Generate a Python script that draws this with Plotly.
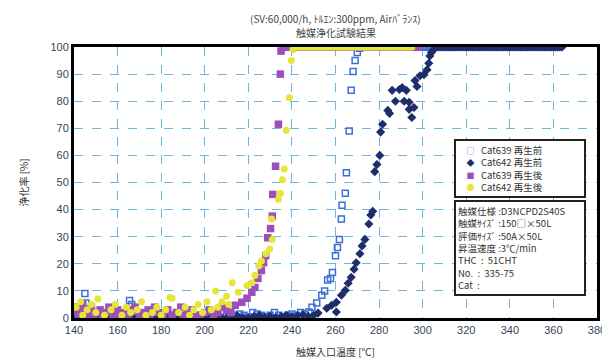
import plotly.graph_objects as go

# ---- data ----
c639_pre_x = [141,143,145,145.5,147,149,151,153,156,158,160,163,165.5,166.5,168,171,174,177,180,183,186,189,192,195,198,201,204,207,210,213,216,218,220,222,224,226,228,230,232,234,236,238,240,242,244,246,
              247.8,249.2,251.4,253.7,255,256.4,257.7,258.6,260,260.9,261.8,262.7,263,264.5,265,266.3,267.2,268.1,269,270,271]
c639_pre_y = [1,2,9,5.5,3,1,2,0.5,1,2,0,1,6.5,5,1,0.5,1,0,1,0.5,0,1,0.5,0,1,0,1,0,0.5,1,1.5,1,0.5,2,1.5,1,0.5,1,2,1,0.5,1,1.5,1,2,1.5,
              2.2,4,5.5,8.4,10,14,14.6,16.8,23,26,29,36.5,41.6,46,53.6,69,84,91,95,98,99.5]
c639_pre_top_x = list(range(272, 363))

c642_pre_x = [140,142.5,145,147.5,150,152.5,155,157.5,160,162.5,165,167.5,170,172.5,175,177.5,180,182.5,185,187.5,190,192.5,195,197.5,200,202.5,205,207.5,210,212.5,215,217.5,220,222.5,225,227.5,230,232.5,235,237.5,240,242.5,245,247.5,250,
              252,256,258.2,260.4,260.4,262.7,264.5,265.8,267.2,268.5,269.5,271.2,272.2,273.5,275.3,276.2,277.1,278,279,280.3,280.7,281.6,284,284.8,286,287.5,289.3,290.6,291.5,292.5,293.8,293.8,295,296,296.5,297.4,298.8,300.6,302,302.8,303.3,304,305]
c642_pre_y = [0,0.5,0,1,0.3,0,0.5,1,0,0.3,0.5,0,1,0.2,0,0.5,0.3,0,0.8,0.2,0,0.5,0,0.3,1,0,0.5,0.2,0,0.4,0.8,0.2,0,0.5,1,0.3,0.6,0.2,0.5,1,0.4,0.8,1.2,0.6,1,
              1.8,3.6,4.7,5.8,2.2,8.4,10.2,12.8,15,18,20.4,23.7,26.6,29,34.7,38,39.4,54,56.6,60,68.6,71.5,76.6,75.5,84,80,84.3,85,80,84,79.6,77,74,77.7,87.6,85.4,89.4,89.8,91.6,94,96.7,98,99]
c642_pre_top_x = list(range(306, 365))

c639_post_x = [140,141,142,143,144,145,146,147,148,149,150,152,153,155,156,158,160,161,163,165,167,168,170,172,174,175,177,179,181,183,185,187,189,190,192,194,196,198,200,202,204,206,208,210,212,
               214,217,219.4,221.6,223,224.4,226,227,228,228.9,230.2,231,231.2,232.5,233.8,234.7,235]
c639_post_y = [2,4,1,3,5,2,0.5,3,4,1,2,3,0.5,2,4,1,3,0.5,2,1,3,4,0.5,2,3,1,4,2,0.5,3,1,2,4,0.5,2,3,1,0.5,2,3,1,2,4,3,2,
               4.7,5.8,7.3,9.5,11.3,14.6,17.5,20.4,23,29.6,33,37.6,45.6,56,71.5,90,98.5]
c639_post_top_x = list(range(236, 299))

c642_post_x = [141,143,144,146,148,150,151,154,157,159,162,164,166,169,171,173,176,178,180,182,184,185,188,191,193,195,197,199,201,203,205,206,208,210,211,
               212.6,215.4,219.4,221.6,223,224.8,226,228,229.8,231,230.7,233.8,234.7,235.6,236.5,237.4,238.8,239.7,240.5]
c642_post_y = [4,6,1,3,5,2,7,1,3,5,1,4,2,3,6,1,2,4,1,3,7.6,7.3,2,4,1,3,5,2,6,3,10,4,6,8,5,
               13,9.5,12,13,15.7,19.3,21,23.7,25.5,29,36.5,43.8,46,51,55,69.3,81.4,95,99]
c642_post_top_x = list(range(241, 296))

x_ticks = list(range(140, 381, 20))
y_ticks = list(range(0, 101, 10))

names = ["Cat639 再生前", "Cat642 再生前", "Cat639 再生後", "Cat642 再生後"]
colors = ["#3d6fd6", "#1f2d6a", "#9c4fb8", "#e6e63a"]
legend_glyphs = ["□", "◆", "■", "●"]

def full(xs, ys, top):
    return xs + top, ys + [100] * len(top)

fig = go.Figure()
x1, y1 = full(c639_pre_x, c639_pre_y, c639_pre_top_x)
fig.add_trace(go.Scatter(x=x1, y=y1, mode="markers", name=names[0],
    marker=dict(symbol="square-open", size=6, color=colors[0], line=dict(width=1.5, color=colors[0]))))
x2, y2 = full(c642_pre_x, c642_pre_y, c642_pre_top_x)
fig.add_trace(go.Scatter(x=x2, y=y2, mode="markers", name=names[1],
    marker=dict(symbol="diamond", size=7, color=colors[1])))
x3, y3 = full(c639_post_x, c639_post_y, c639_post_top_x)
fig.add_trace(go.Scatter(x=x3, y=y3, mode="markers", name=names[2],
    marker=dict(symbol="square", size=7.5, color=colors[2])))
x4, y4 = full(c642_post_x, c642_post_y, c642_post_top_x)
fig.add_trace(go.Scatter(x=x4, y=y4, mode="markers", name=names[3],
    marker=dict(symbol="circle", size=7, color=colors[3])))

tickfont = dict(family="Liberation Sans", size=11, color="#34465a")
fig.update_layout(
    width=610, height=361,
    margin=dict(l=66, r=12, t=39, b=48),
    paper_bgcolor="white", plot_bgcolor="white",
    font=dict(family="Noto Sans CJK JP", color="#333"),
    showlegend=False,
    xaxis=dict(range=[140, 380], tickvals=x_ticks, tickfont=tickfont,
               showgrid=True, gridcolor="#6ab8dc", griddash="dash", gridwidth=1,
               showline=True, linecolor="black", linewidth=3, mirror=True,
               layer="below traces", zeroline=False, ticks="",
               title=dict(text="触媒入口温度 [℃]", font=dict(size=10, color="#333"), standoff=14)),
    yaxis=dict(range=[0, 100], tickvals=y_ticks, tickfont=tickfont,
               showgrid=True, gridcolor="#6ab8dc", griddash="dash", gridwidth=1,
               showline=True, linecolor="black", linewidth=3, mirror=True,
               layer="below traces", zeroline=False, ticks="",
               title=dict(text="浄化率 [%]", font=dict(size=10, color="#333"), standoff=20)),
)

# title lines
fig.add_annotation(xref="paper", yref="paper", x=0.5, y=1.106, xanchor="center", yanchor="middle",
                   text="(SV:60,000/h, ﾄﾙｴﾝ:300ppm, Airﾊﾞﾗﾝｽ)", showarrow=False,
                   font=dict(size=10, color="#444"))
fig.add_annotation(xref="paper", yref="paper", x=0.5, y=1.055, xanchor="center", yanchor="middle",
                   text="触媒浄化試験結果", showarrow=False,
                   font=dict(size=10, color="#444"))

# legend box
nb = "\u00a0"
leg_lines = [f"{nb*4}<span style='color:{c};font-size:8px'>{g}</span>{nb*3}{n}"
             for g, c, n in zip(legend_glyphs, colors, names)]
fig.add_annotation(xref="paper", yref="paper", x=0.726, y=0.661, xanchor="left", yanchor="top",
                   text="<br>".join(leg_lines), showarrow=False, align="left",
                   font=dict(size=9.5, color="#333", family="Noto Sans CJK JP"),
                   bgcolor="white", bordercolor="#222", borderwidth=2, borderpad=2,
                   width=124)

info = ("触媒仕様 :D3NCPD2S40S<br>触媒ｻｲｽﾞ :150□×50L<br>評価ｻｲｽﾞ :50A×50L<br>"
        "昇温速度 :3℃/min<br>THC  :  51CHT<br>No.  :  335-75<br>Cat  :")
fig.add_annotation(xref="paper", yref="paper", x=0.726, y=0.436, xanchor="left", yanchor="top",
                   text=info, showarrow=False, align="left",
                   font=dict(size=9.5, color="#333", family="Noto Sans CJK JP"),
                   bgcolor="white", bordercolor="#222", borderwidth=2, borderpad=2,
                   width=124)

fig.write_html("out.html")
